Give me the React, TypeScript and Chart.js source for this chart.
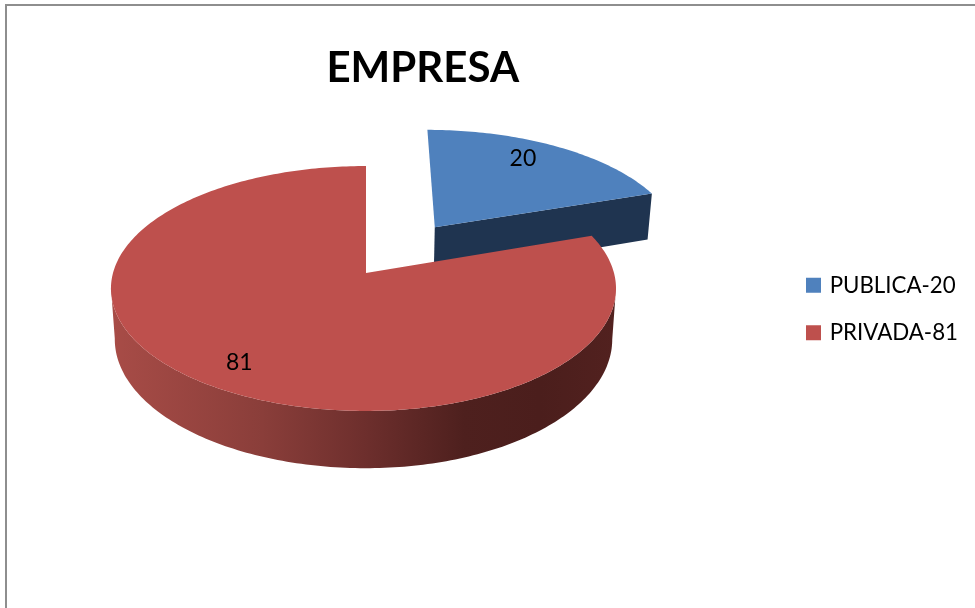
import React, { useEffect, useRef } from "react";
import { Chart, registerables } from "chart.js";

Chart.register(...registerables);

const chartTitle = "EMPRESA";
const categories = ["PUBLICA-20", "PRIVADA-81"];
const values = [20, 81];
const faceColors = ["#4F81BD", "#BE504D"];
const explode = [0.49, 0];
const labelNudge = [-0.07, -0.03];
const labelReach = [0.8, 0.82];
const rightSpan = [253, 248];
const fontFamily = 'Lato, "Open Sans", sans-serif';

// Perspective of the tilted disc: unit-circle coordinates to canvas pixels.
const CX = 366;
const CY = 273;
const SCALE_X = 253;
const SCALE_Y = 120.5;
const TILT = 0.1265;
const DEPTH = 50;
const BASE_INSET = 0.985;

type Pt = { x: number; y: number };

const project = (u: number, v: number, lower = false, right = SCALE_X): Pt => {
  const w = 1 - TILT * v;
  const span = (u < 0 ? SCALE_X : right) * (lower ? BASE_INSET : 1);
  return {
    x: CX + (span * u) / w,
    y: CY + (SCALE_Y * v + (lower ? DEPTH : 0)) / w,
  };
};

const traceQuad = (ctx: CanvasRenderingContext2D, a: Pt, b: Pt, c: Pt, d: Pt) => {
  ctx.moveTo(a.x, a.y);
  ctx.lineTo(b.x, b.y);
  ctx.lineTo(c.x, c.y);
  ctx.lineTo(d.x, d.y);
  ctx.closePath();
};

// Draws the slices as extruded 3D wedges from the angles the arc elements hold.
const disc3d = {
  id: "disc3d",
  beforeDatasetDraw(chart: Chart) {
    const ctx = chart.ctx;
    const arcs = chart.getDatasetMeta(0).data as any[];
    arcs.forEach((arc, i) => {
      const mid = (arc.startAngle + arc.endAngle) / 2;
      const ou = Math.cos(mid) * explode[i];
      const ov = Math.sin(mid) * explode[i];
      const right = rightSpan[i];
      const steps = Math.ceil(((arc.endAngle - arc.startAngle) * 180) / Math.PI);
      const rim: [number, number][] = [];
      for (let s = 0; s <= steps; s++) {
        const a = arc.startAngle + ((arc.endAngle - arc.startAngle) * s) / steps;
        rim.push([ou + Math.cos(a), ov + Math.sin(a)]);
      }

      // Side walls: the exploded slice shows its cut edge, the large one its front rim.
      ctx.beginPath();
      if (i === 0) {
        const [eu, ev] = rim[steps];
        traceQuad(
          ctx,
          project(ou, ov, false, right),
          project(eu, ev, false, right),
          project(eu, ev, true, right),
          project(ou, ov, true, right)
        );
        ctx.fillStyle = "#1F3450";
      } else {
        for (let s = 0; s < steps; s++) {
          const [u0, v0] = rim[s];
          const [u1, v1] = rim[s + 1];
          if (Math.max(v0, v1) < TILT) continue;
          traceQuad(
            ctx,
            project(u0, v0, false, right),
            project(u1, v1, false, right),
            project(u1, v1, true, right),
            project(u0, v0, true, right)
          );
        }
        const shade = ctx.createLinearGradient(111, 0, 615, 0);
        shade.addColorStop(0, "#A84C47");
        shade.addColorStop(0.3, "#8A3E3A");
        shade.addColorStop(0.5, "#6E2F2D");
        shade.addColorStop(0.7, "#4E201E");
        shade.addColorStop(0.85, "#4B1E1C");
        shade.addColorStop(1, "#52211F");
        ctx.fillStyle = shade;
      }
      ctx.fill();

      // Top face
      ctx.beginPath();
      const apex = project(ou, ov, false, right);
      ctx.moveTo(apex.x, apex.y);
      rim.forEach(([u, v]) => {
        const p = project(u, v, false, right);
        ctx.lineTo(p.x, p.y);
      });
      ctx.closePath();
      ctx.fillStyle = faceColors[i];
      ctx.fill();
    });

    // Value labels
    ctx.font = `23px ${fontFamily}`;
    ctx.fillStyle = "#000";
    ctx.textAlign = "center";
    ctx.textBaseline = "middle";
    arcs.forEach((arc, i) => {
      const mid = (arc.startAngle + arc.endAngle) / 2;
      const a = mid + labelNudge[i];
      const p = project(
        Math.cos(mid) * explode[i] + labelReach[i] * Math.cos(a),
        Math.sin(mid) * explode[i] + labelReach[i] * Math.sin(a)
      );
      ctx.fillText(String(values[i]), p.x, p.y);
    });
    return false;
  },
};

// Thin grey frame along the top and left of the chart area.
const frame = {
  id: "frame",
  beforeDraw(chart: Chart) {
    const ctx = chart.ctx;
    ctx.save();
    ctx.fillStyle = "#8E8E8E";
    ctx.fillRect(5, 4, chart.width - 5, 2);
    ctx.fillRect(5, 4, 2, chart.height - 4);
    ctx.restore();
  },
};

export default function App() {
  const ref = useRef<HTMLCanvasElement>(null);
  useEffect(() => {
    const chart = new Chart(ref.current!, {
      type: "pie",
      data: {
        labels: categories,
        datasets: [{ data: values, backgroundColor: faceColors, borderWidth: 0 }],
      },
      options: {
        responsive: false,
        animation: false,
        layout: { padding: { left: 62, right: 7, top: 10 } },
        plugins: {
          title: {
            display: true,
            text: chartTitle,
            fullSize: false,
            color: "#000",
            font: { family: fontFamily, size: 42, weight: "bold" },
            padding: { top: 33, bottom: 10 },
          },
          legend: {
            position: "right",
            labels: {
              color: "#000",
              font: { family: fontFamily, size: 22.3 },
              usePointStyle: true,
              pointStyle: "rect",
              boxWidth: 10,
              boxHeight: 15,
              padding: 25,
            },
          },
          tooltip: { enabled: false },
        },
      },
      plugins: [frame, disc3d],
    });
    return () => chart.destroy();
  }, []);
  return (
    <div style={{ position: "absolute", left: 0, top: 0, width: 975, height: 608, background: "#fff" }}>
      <canvas ref={ref} width={975} height={608} style={{ display: "block" }} />
    </div>
  );
}
